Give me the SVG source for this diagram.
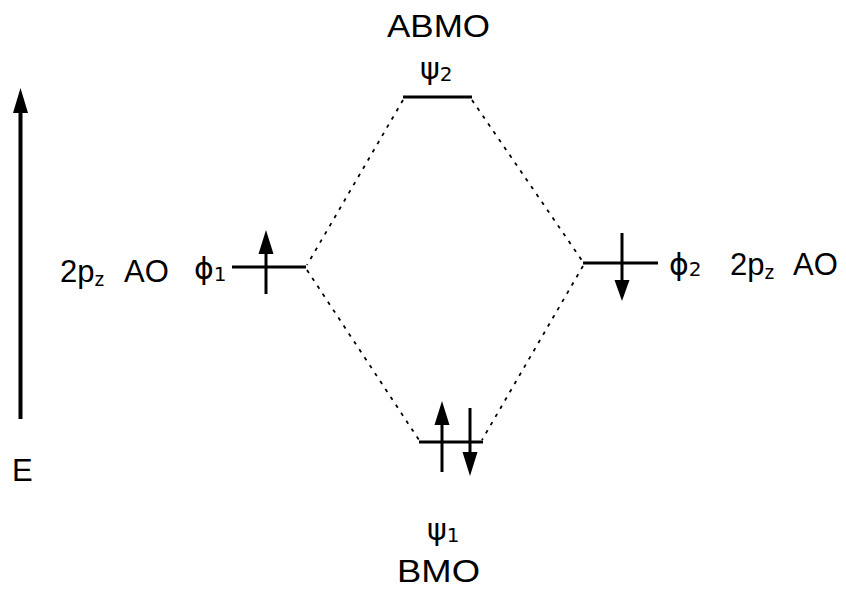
<svg xmlns="http://www.w3.org/2000/svg" width="846" height="590" viewBox="0 0 846 590">
<style>
text{font-family:"Liberation Sans",Arial,sans-serif;fill:#000}
.lbl{font-size:31px}
.sub{font-size:20px}
.gr{font-size:30px;font-family:"DejaVu Sans","Liberation Sans",sans-serif}
.lvl{stroke:#000;stroke-width:3;fill:none}
.spin{stroke:#000;stroke-width:3;fill:none}
.head{fill:#000}
.dot{stroke:#000;stroke-width:1.8;stroke-dasharray:3.5 6;fill:none}
</style>
<rect width="846" height="590" fill="#fff"/>
<g id="energy-axis">
<line x1="20.5" y1="100" x2="20.5" y2="419" stroke="#000" stroke-width="4"/>
<polygon class="head" points="20.5,88 13,113 28,113"/>
<text class="lbl" x="12" y="481">E</text>
</g>
<g id="connectors">
<line class="dot" x1="403" y1="100" x2="307" y2="265"/>
<line class="dot" x1="472" y1="100" x2="583" y2="262"/>
<line class="dot" x1="307" y1="270" x2="419" y2="440"/>
<line class="dot" x1="583" y1="266" x2="482" y2="440"/>
</g>
<g id="abmo">
<text class="lbl" x="387" y="37" textLength="103" lengthAdjust="spacingAndGlyphs">ABMO</text>
<text class="gr" x="420" y="79">ψ<tspan class="sub" dy="2">2</tspan></text>
<line class="lvl" x1="403" y1="97" x2="472" y2="97"/>
</g>
<g id="phi1">
<text class="lbl" x="60" y="282">2p<tspan class="sub" dy="4">z</tspan><tspan dy="-4" x="124">AO</tspan></text>
<text class="gr" x="194" y="279">ϕ<tspan class="sub" dy="2">1</tspan></text>
<line class="lvl" x1="232" y1="267" x2="306" y2="267"/>
<line class="spin" x1="266" y1="250" x2="266" y2="294"/>
<polygon class="head" points="266,230 258.5,254 273.5,254"/>
</g>
<g id="phi2">
<line class="lvl" x1="583" y1="263" x2="658" y2="263"/>
<line class="spin" x1="622" y1="233" x2="622" y2="285"/>
<polygon class="head" points="622,301 614.5,280 629.5,280"/>
<text class="gr" x="669" y="275">ϕ<tspan class="sub" dy="1">2</tspan></text>
<text class="lbl" x="730" y="275">2p<tspan class="sub" dy="4">z</tspan><tspan dy="-4" x="793">AO</tspan></text>
</g>
<g id="bmo">
<line class="lvl" x1="419" y1="442" x2="483" y2="442"/>
<line class="spin" x1="442" y1="420" x2="442" y2="472"/>
<polygon class="head" points="442,401 434.5,425 449.5,425"/>
<line class="spin" x1="470" y1="408" x2="470" y2="458"/>
<polygon class="head" points="470,476 462.5,452 477.5,452"/>
<text class="gr" x="427" y="540">ψ<tspan class="sub" dy="2">1</tspan></text>
<text class="lbl" x="397" y="582" textLength="83" lengthAdjust="spacingAndGlyphs">BMO</text>
</g>
</svg>
